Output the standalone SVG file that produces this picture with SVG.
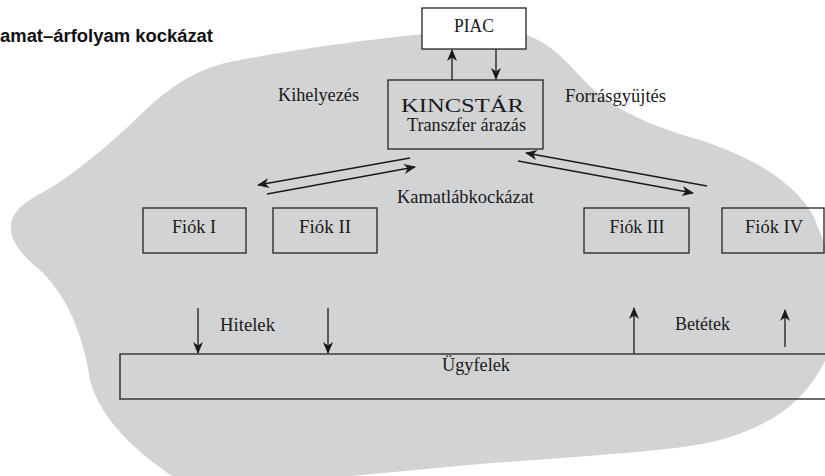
<svg xmlns="http://www.w3.org/2000/svg" width="825" height="476" viewBox="0 0 825 476">
<defs>
<style>
.lbl{font-family:"Liberation Serif","Times New Roman",serif;font-size:18px;fill:#1a1a1a}
.box{fill:none;stroke:#222;stroke-width:1.3}
.con{stroke:#1a1a1a;stroke-width:1.3;fill:none}
.title{font-family:"Liberation Sans",Arial,sans-serif;font-weight:bold;font-size:18px;fill:#111}
</style>
<marker id="ah" markerUnits="userSpaceOnUse" markerWidth="12" markerHeight="10" refX="11" refY="5" orient="auto" viewBox="0 0 12 10">
<path d="M0,0 L12,5 L0,10 L3.5,5 Z" fill="#1a1a1a"/>
</marker>
</defs>
<rect width="825" height="476" fill="#ffffff"/>
<path id="blob" fill="#d2d3d5" d="M240,60 C320,45 420,32 490,30 C530,29 552,45 577,73 C605,105 640,122 690,137 C750,155 792,180 813,215 L832,262 L832,345 C822,372 805,395 785,410 C760,428 730,440 690,446 C650,452 560,458 480,464 L330,478 L175,478 C140,455 100,420 90,380 C85,345 72,302 42,272 C2,240 0,215 38,195 C70,178 100,152 130,125 C160,95 190,68 240,60 Z"/>
<text class="title" x="0" y="42" textLength="213" lengthAdjust="spacingAndGlyphs">amat–árfolyam kockázat</text>
<g id="connectors">
<line class="con" x1="452" y1="80" x2="452" y2="50" marker-end="url(#ah)"/>
<line class="con" x1="496" y1="49" x2="496" y2="79" marker-end="url(#ah)"/>
<line class="con" x1="410" y1="158" x2="258" y2="185" marker-end="url(#ah)"/>
<line class="con" x1="267" y1="194" x2="415" y2="167" marker-end="url(#ah)"/>
<line class="con" x1="707" y1="186" x2="526" y2="153" marker-end="url(#ah)"/>
<line class="con" x1="518" y1="161" x2="693" y2="193" marker-end="url(#ah)"/>
<line class="con" x1="198" y1="308" x2="198" y2="353" marker-end="url(#ah)"/>
<line class="con" x1="328" y1="308" x2="328" y2="353" marker-end="url(#ah)"/>
<line class="con" x1="634" y1="354" x2="634" y2="308" marker-end="url(#ah)"/>
<line class="con" x1="785" y1="347" x2="785" y2="310" marker-end="url(#ah)" stroke-width="1"/>
</g>
<g id="piac">
<rect x="422" y="8" width="104" height="41" fill="#ffffff" stroke="#222" stroke-width="1.3"/>
<text class="lbl" x="474" y="32" text-anchor="middle" font-size="16" textLength="40" lengthAdjust="spacingAndGlyphs">PIAC</text>
</g>
<g id="kincstar">
<rect class="box" x="388" y="80" width="155" height="69"/>
<text class="lbl" x="462.5" y="112" text-anchor="middle" font-size="23" textLength="123" lengthAdjust="spacingAndGlyphs">KINCSTÁR</text>
<text class="lbl" x="466.5" y="131" text-anchor="middle" font-size="17" textLength="119" lengthAdjust="spacingAndGlyphs">Transzfer árazás</text>
</g>
<g id="kihelyezes"><text class="lbl" x="278" y="101" font-size="17" textLength="81" lengthAdjust="spacingAndGlyphs">Kihelyezés</text></g>
<g id="forrasgyujtes"><text class="lbl" x="565" y="102" font-size="17" textLength="101" lengthAdjust="spacingAndGlyphs">Forrásgyüjtés</text></g>
<g id="kamatlab"><text class="lbl" x="397" y="203" font-size="17" textLength="137" lengthAdjust="spacingAndGlyphs">Kamatlábkockázat</text></g>
<g id="fiok1">
<rect class="box" x="143" y="208" width="103" height="45"/>
<text class="lbl" x="194" y="233" text-anchor="middle" font-size="17" textLength="44" lengthAdjust="spacingAndGlyphs">Fiók I</text>
</g>
<g id="fiok2">
<rect class="box" x="273" y="208" width="104" height="45"/>
<text class="lbl" x="325" y="233" text-anchor="middle" font-size="17" textLength="52" lengthAdjust="spacingAndGlyphs">Fiók II</text>
</g>
<g id="fiok3">
<rect class="box" x="584" y="208" width="105" height="45"/>
<text class="lbl" x="637" y="233" text-anchor="middle" font-size="17" textLength="55" lengthAdjust="spacingAndGlyphs">Fiók III</text>
</g>
<g id="fiok4">
<rect class="box" x="722" y="208" width="102" height="45"/>
<text class="lbl" x="774" y="233" text-anchor="middle" font-size="17" textLength="58" lengthAdjust="spacingAndGlyphs">Fiók IV</text>
</g>
<g id="hitelek"><text class="lbl" x="220" y="331" font-size="17" textLength="55" lengthAdjust="spacingAndGlyphs">Hitelek</text></g>
<g id="betetek"><text class="lbl" x="675" y="330" font-size="17" textLength="55" lengthAdjust="spacingAndGlyphs">Betétek</text></g>
<g id="ugyfelek">
<path d="M830,354 H120 V399 H830" fill="none" stroke="#3a3a3a" stroke-width="1.6"/>
<text class="lbl" x="476" y="371" text-anchor="middle" font-size="18" textLength="68" lengthAdjust="spacingAndGlyphs">Ügyfelek</text>
</g>
</svg>
